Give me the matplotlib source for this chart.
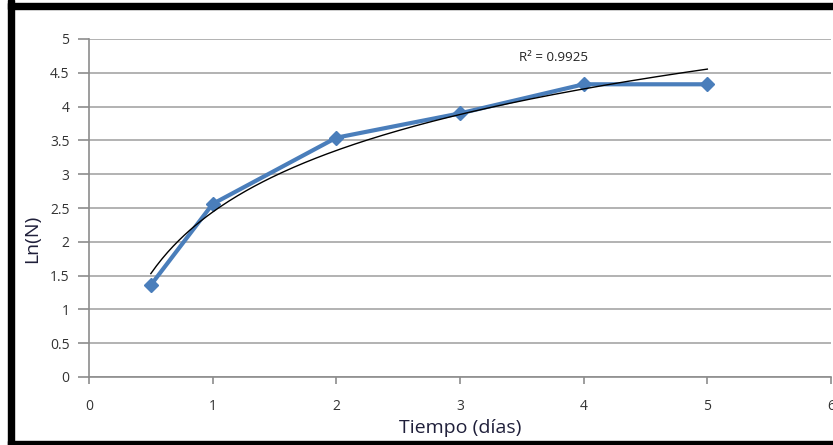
import numpy as np
import matplotlib.pyplot as plt
from matplotlib.patches import Rectangle

# datos del cultivo
tiempo = [0.5, 1, 2, 3, 4, 5]
ln_n = [1.36, 2.56, 3.54, 3.90, 4.33, 4.33]
r2_texto = "R² = 0.9925"

plt.rcParams['font.family'] = ['Open Sans', 'DejaVu Sans']

fig = plt.figure(figsize=(8.33, 4.45), dpi=100)
ax = fig.add_axes([89/833, 1-377/445, (831-89)/833, (377-39)/445])

# serie de datos
ax.plot(tiempo, ln_n, color='#4a7ebb', lw=3, marker='D', ms=7.5, zorder=3)

# linea de tendencia logaritmica
a, b = np.polyfit(np.log(tiempo), ln_n, 1)
xs = np.linspace(min(tiempo), max(tiempo), 200)
ax.plot(xs, a*np.log(xs) + b, color='black', lw=1, zorder=4)
ax.text(3.48, 4.73, r2_texto, fontsize=9.5, color='#222222', va='center')

ax.set_xlim(0, 6)
ax.set_ylim(0, 5)
ax.set_xticks(range(0, 7))
ax.set_yticks(np.arange(0, 5.01, 0.5))
ax.set_yticklabels(['0', '0.5', '1', '1.5', '2', '2.5', '3', '3.5', '4', '4.5', '5'])
ax.grid(axis='y', color='#a6a6a6', lw=1.2)
ax.set_axisbelow(True)
for s in ['top', 'right']:
    ax.spines[s].set_visible(False)
for s in ['left', 'bottom']:
    ax.spines[s].set_color('#8c8c8c')
    ax.spines[s].set_linewidth(1.2)
ax.tick_params(axis='y', length=8, width=1.2, color='#8c8c8c', pad=6,
               labelsize=10, labelcolor='#333333')
ax.tick_params(axis='x', length=5, width=1.2, color='#8c8c8c', pad=11,
               labelsize=10, labelcolor='#333333')

ax.set_xlabel('Tiempo (días)', fontsize=14, color='#1f1f3a')
ax.xaxis.set_label_coords(0.5, -0.125)
ax.set_ylabel('Ln(N)', fontsize=14, color='#1f1f3a')
ax.yaxis.set_label_coords(-0.065, 0.41)

# marco negro
fig.patches.append(Rectangle((8/833, 0), 6/833, 1, transform=fig.transFigure,
                             color='black', zorder=10))
fig.patches.append(Rectangle((8/833, 1-9/445), 1, 6/445, transform=fig.transFigure,
                             color='black', zorder=10))
fig.patches.append(Rectangle((8/833, 0), 1, 4/445, transform=fig.transFigure,
                             color='black', zorder=10))

fig.savefig('out.png', dpi=100)
